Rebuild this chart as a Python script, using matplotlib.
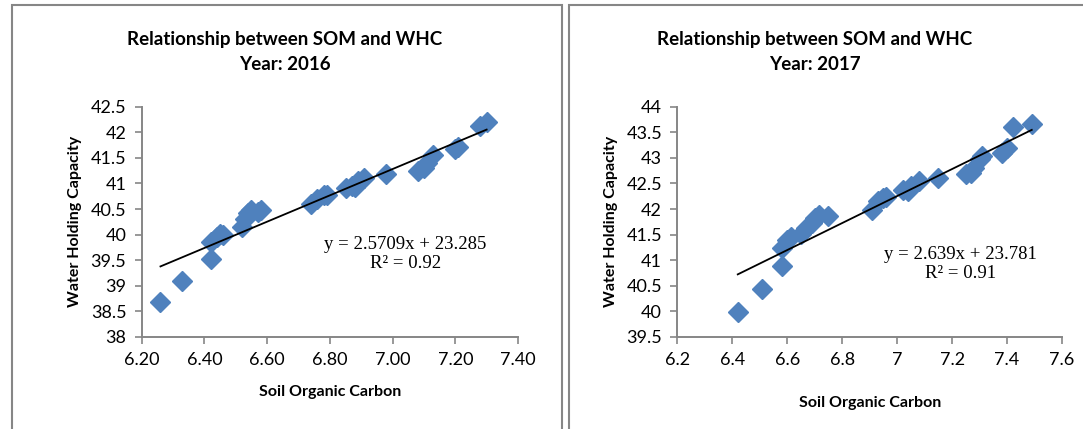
#!/usr/bin/env python3
import matplotlib
matplotlib.use("Agg")
import matplotlib.pyplot as plt
from matplotlib.patches import Rectangle
import numpy as np

# --- data ---
som_2016 = [6.26, 6.33, 6.42, 6.42, 6.44, 6.45, 6.46, 6.52, 6.53, 6.54, 6.55, 6.57,
            6.58, 6.74, 6.76, 6.78, 6.79, 6.85, 6.87, 6.88, 6.89, 6.91, 6.98, 7.08,
            7.10, 7.11, 7.13, 7.20, 7.21, 7.28, 7.30]
whc_2016 = [38.68, 39.10, 39.53, 39.85, 39.95, 40.02, 40.00, 40.15, 40.30, 40.42, 40.48, 40.45,
            40.48, 40.60, 40.70, 40.78, 40.78, 40.92, 40.95, 40.93, 41.05, 41.10, 41.18, 41.25,
            41.30, 41.40, 41.55, 41.68, 41.72, 42.12, 42.20]

som_2017 = [6.42, 6.51, 6.58, 6.58, 6.60, 6.615, 6.65, 6.67, 6.69, 6.70, 6.715, 6.75,
            6.91, 6.93, 6.95, 6.96, 7.02, 7.04, 7.05, 7.08, 7.15, 7.25, 7.27, 7.28,
            7.30, 7.31, 7.38, 7.40, 7.42, 7.49]
whc_2017 = [39.98, 40.43, 40.88, 41.24, 41.39, 41.46, 41.52, 41.62, 41.72, 41.82, 41.89, 41.87,
            41.98, 42.15, 42.21, 42.23, 42.38, 42.35, 42.45, 42.55, 42.61, 42.68, 42.70, 42.81,
            42.97, 43.03, 43.10, 43.19, 43.60, 43.67]

fit_2016 = (2.5709, 23.285, 0.92)
fit_2017 = (2.639, 23.781, 0.91)

xticks_2016 = [6.20, 6.40, 6.60, 6.80, 7.00, 7.20, 7.40]
yticks_2016 = [38, 38.5, 39, 39.5, 40, 40.5, 41, 41.5, 42, 42.5]
xticks_2017 = [6.2, 6.4, 6.6, 6.8, 7.0, 7.2, 7.4, 7.6]
yticks_2017 = [39.5, 40, 40.5, 41, 41.5, 42, 42.5, 43, 43.5, 44]

BLUE = "#4F81BD"
GREY = "#868686"
SANS = ["Lato", "DejaVu Sans"]
SERIF = ["Liberation Serif", "DejaVu Serif"]


def draw(ax, x, y, fit, xt, yt, xfmt, eq_pos, xpad):
    slope, icpt, r2 = fit
    ax.plot(x, y, linestyle="none", marker="D", ms=10.3, color=BLUE,
            markeredgecolor=BLUE, zorder=3)
    xs = np.array([min(x), max(x)])
    ax.plot(xs, slope * xs + icpt, color="black", lw=1.3, zorder=4)
    ax.set_xlim(xt[0], xt[-1])
    ax.set_ylim(yt[0], yt[-1])
    ax.set_xticks(xt)
    ax.set_xticklabels([xfmt(v) for v in xt])
    ax.set_yticks(yt)
    ax.set_yticklabels([f"{v:g}" for v in yt])
    for s in ("top", "right"):
        ax.spines[s].set_visible(False)
    for s in ("left", "bottom"):
        ax.spines[s].set_color(GREY)
        ax.spines[s].set_linewidth(1.4)
    ax.tick_params(direction="out", length=5, width=1.2, color=GREY,
                   labelsize=13, pad=6)
    for lab in ax.get_xticklabels() + ax.get_yticklabels():
        lab.set_family(SANS)
    ax.text(eq_pos[0], eq_pos[1], f"y = {slope:g}x + {icpt:g}\nR² = {r2:.2f}",
            ha="center", va="center", fontsize=13.5, family=SERIF,
            linespacing=1.15)
    ax.set_xlabel("Soil Organic Carbon", fontsize=11.5, fontweight="bold",
                  family=SANS, labelpad=xpad)
    ax.set_ylabel("Water Holding Capacity", fontsize=11.5, fontweight="bold",
                  family=SANS, labelpad=6)


fig = plt.figure(figsize=(10.83, 4.29), dpi=100)

ax1 = fig.add_axes([0.1308, 0.2145, 0.3475, 0.5368])
draw(ax1, som_2016, whc_2016, fit_2016, xticks_2016, yticks_2016,
     lambda v: f"{v:.2f}", (7.04, 39.62), 12)

ax2 = fig.add_axes([0.6254, 0.2145, 0.3552, 0.5368])
draw(ax2, som_2017, whc_2017, fit_2017, xticks_2017, yticks_2017,
     lambda v: f"{v:g}", (7.23, 40.93), 20)

for cx, year in ((285 / 1083, "2016"), (815 / 1083, "2017")):
    fig.text(cx, 1 - 40 / 429, "Relationship between SOM and WHC", ha="center",
             va="center", fontsize=13.5, fontweight="bold", family=SANS)
    fig.text(cx, 1 - 64 / 429, f"Year: {year}", ha="center", va="center",
             fontsize=13.5, fontweight="bold", family=SANS)

# chart area borders
fig.patches.append(Rectangle((12 / 1083, -0.1), 550 / 1083, 1.1 - 5 / 429,
                             transform=fig.transFigure, fill=False,
                             edgecolor=GREY, lw=1.5))
fig.patches.append(Rectangle((569 / 1083, -0.1), 0.6, 1.1 - 5 / 429,
                             transform=fig.transFigure, fill=False,
                             edgecolor=GREY, lw=1.5))

fig.savefig("out.png", dpi=100)
